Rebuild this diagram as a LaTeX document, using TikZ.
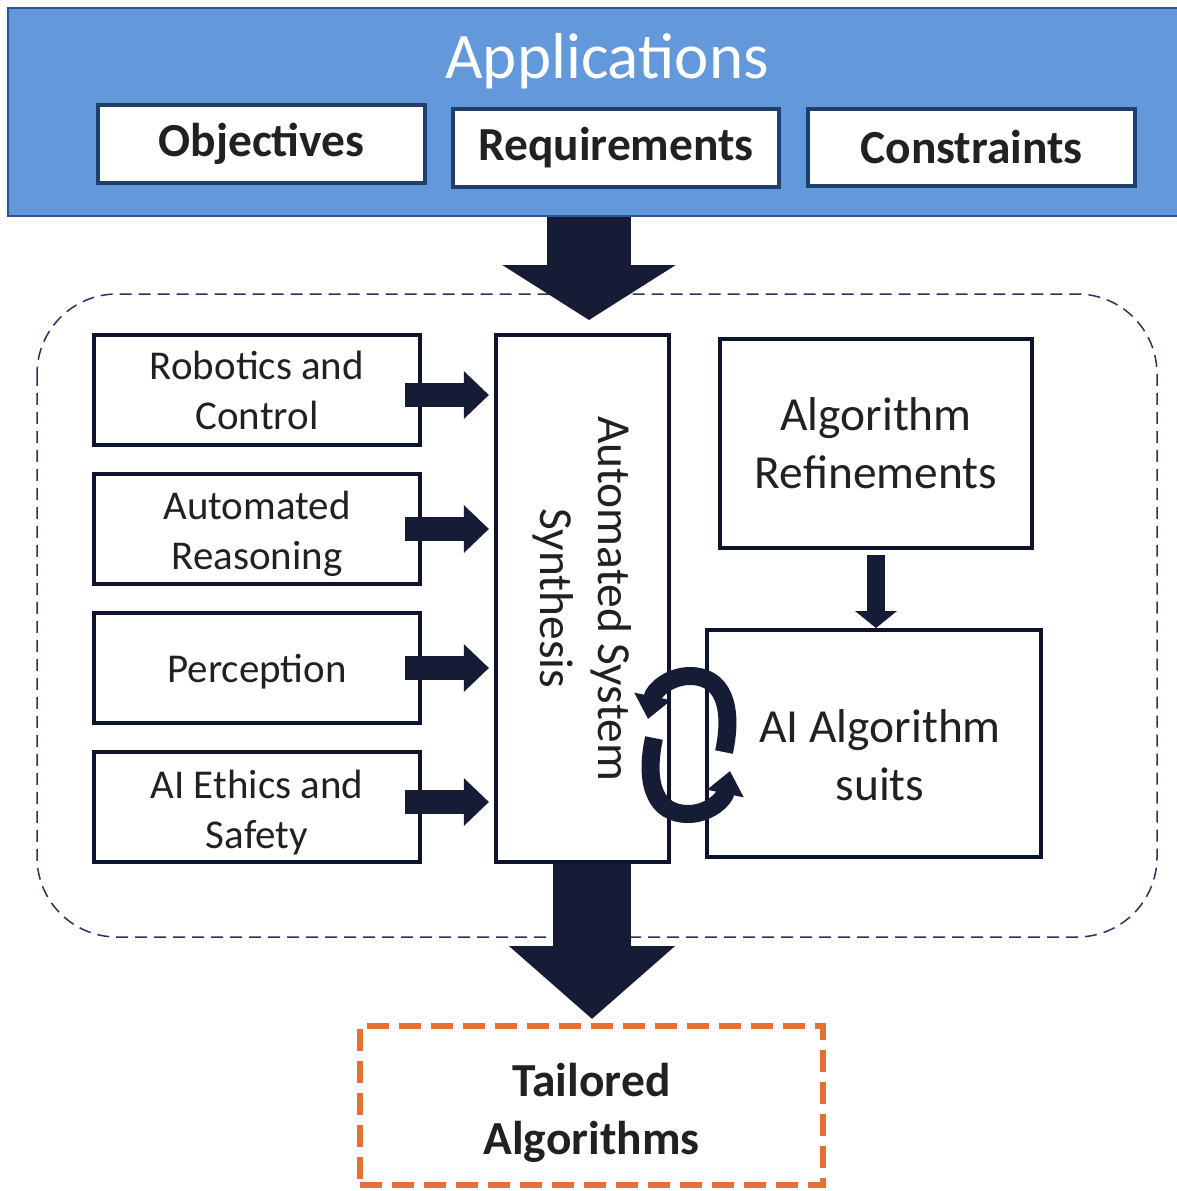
\documentclass[tikz,border=0pt]{standalone}
\usepackage{fontspec}
\setmainfont{Carlito}
\usetikzlibrary{arrows.meta}
\usetikzlibrary{positioning}
\definecolor{bannerblue}{RGB}{99,153,218}
\definecolor{bannerline}{RGB}{47,85,151}
\definecolor{topnavy}{RGB}{31,62,107}
\definecolor{boxnavy}{RGB}{15,20,45}
\definecolor{arrownavy}{RGB}{22,27,54}
\definecolor{regionnavy}{RGB}{40,52,95}
\definecolor{tailorange}{RGB}{228,113,52}
\definecolor{textgray}{RGB}{33,33,33}

\begin{document}
\begin{tikzpicture}[x=0.02cm,y=-0.02cm,
  top box/.style={rectangle,draw=topnavy,line width=0.08cm,fill=white,text=textgray,minimum width=6.54cm,minimum height=1.56cm,font=\bfseries\fontsize{27}{33}\selectfont},
  side box/.style={rectangle,draw=boxnavy,line width=0.08cm,fill=white,text=textgray,align=center,minimum width=6.52cm,minimum height=2.2cm,font=\fontsize{23.3}{28.5}\selectfont},
  main box/.style={rectangle,draw=boxnavy,line width=0.08cm,fill=white,text=textgray,align=center,font=\fontsize{27}{33}\selectfont},
  box text/.style={align=center,text=textgray,inner sep=0pt},
  big arrow/.style={draw=arrownavy,line width=1.7cm,-{Triangle[length=1.1cm,width=3.42cm]}},
  out arrow/.style={draw=arrownavy,line width=1.56cm,-{Triangle[length=1.46cm,width=3.24cm]}},
  side arrow/.style={draw=arrownavy,line width=0.48cm,-{Triangle[length=0.5cm,width=0.92cm]}},
  down arrow/.style={draw=arrownavy,line width=0.36cm,-{Triangle[length=0.34cm,width=0.82cm]}},
  loop arrow/.style={draw=arrownavy,line width=0.36cm,-{Triangle[length=0.46cm,width=0.72cm]}}]%
  \useasboundingbox (0,0) rectangle (1177,1191);
  % applications banner
  \node[rectangle,draw=bannerline,line width=0.04cm,fill=bannerblue,minimum width=23.64cm,minimum height=4.16cm] (banner) at (599,112) {};
  \node[anchor=base,text=white,font=\fontsize{37}{44}\selectfont] (apps) at (607,78) {Applications};
  \node[top box] (obj) at (261.5,144) {Objectives};
  \node[top box] (req) at (616,148) {Requirements};
  \node[top box] (con) at (971.5,147.5) {Constraints};
  % dashed region
  \draw[regionnavy,line width=0.03cm,dash pattern=on 0.24cm off 0.14cm,rounded corners=1.6cm] (37,294) rectangle (1157,937);
  \coordinate (synth top) at (589,320);
  \draw[big arrow] (banner.south -| synth top) -- (synth top);
  % fields
  \node[side box] (rob) at (257,390) {Robotics and\\Control};
  \node[side box] (aut) at (257,529) {};
  \node[box text,font=\fontsize{23.3}{28.5}\selectfont] (aut text) at ([yshift=-0.1cm]aut.center) {Automated\\Reasoning};
  \node[side box] (per) at (257,668) {};
  \node[box text,font=\fontsize{23.3}{28.5}\selectfont] (per text) at ([yshift=-0.08cm]per.center) {Perception};
  \node[side box] (eth) at (257,807) {};
  \node[box text,font=\fontsize{23.3}{28.5}\selectfont] (eth text) at ([yshift=-0.12cm]eth.center) {AI Ethics and\\Safety};
  \node[main box,minimum width=3.46cm,minimum height=10.54cm] (syn) at (582.5,598.5) {};
  \node[rotate=-90,box text,font=\fontsize{27}{33}\selectfont] (syn text) at (syn.center) {Automated System\\Synthesis};
  \draw[side arrow] ([xshift=-0.34cm,yshift=-0.1cm]rob.east) -- +(84,0);
  \draw[side arrow] ([xshift=-0.34cm]aut.east) -- +(84,0);
  \draw[side arrow] ([xshift=-0.34cm]per.east) -- +(84,0);
  \draw[side arrow] ([xshift=-0.34cm,yshift=0.1cm]eth.east) -- +(84,0);
  % algorithms
  \node[main box,minimum width=6.24cm,minimum height=4.18cm] (ref) at (876,443.5) {Algorithm\\Refinements};
  \node[main box,minimum width=6.68cm,minimum height=4.54cm] (ais) at (874,743.5) {};
  \node[box text,font=\fontsize{27}{33}\selectfont] (ais text) at ([xshift=0.12cm,yshift=-0.24cm]ais.center) {AI Algorithm\\suits};
  \draw[down arrow] ([yshift=-0.1cm]ref.south) -- (ref.south |- ais.north);
  \coordinate (loop a) at (724,752);
  \coordinate (loop b) at (654,738);
  \draw[loop arrow] (loop a) .. controls (734,705) and (722,676) .. (690,676) .. controls (670,676) and (654,690) .. (648,719);
  \draw[loop arrow] (loop b) .. controls (644,785) and (656,814) .. (688,814) .. controls (708,814) and (724,800) .. (730,771);
  % output
  \coordinate (tail top) at (592,1019);
  \draw[out arrow] (syn.south -| tail top) -- (tail top);
  \node[rectangle,draw=tailorange,line width=0.12cm,dash pattern=on 0.44cm off 0.2cm,fill=white,minimum width=9.26cm,minimum height=3.18cm] (tail) at (591.5,1105.5) {};
  \node[box text,font=\bfseries\fontsize{27}{33}\selectfont] (tail text) at ([yshift=-0.14cm]tail.center) {Tailored\\Algorithms};
\end{tikzpicture}
\end{document}
